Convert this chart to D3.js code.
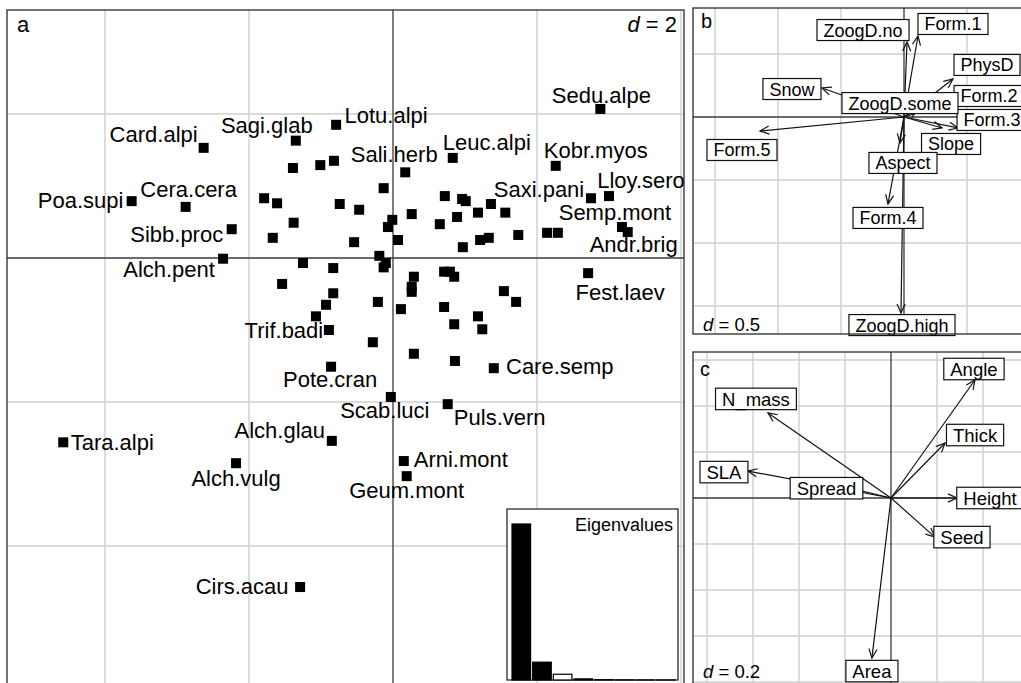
<!DOCTYPE html>
<html>
<head>
<meta charset="utf-8">
<script src="https://cdn.jsdelivr.net/npm/d3@7"></script>
<style>
  body { margin: 0; background: #fff; }
  svg { display: block; font-family: "Liberation Sans", Arial, Helvetica, sans-serif; }
</style>
</head>
<body>
<svg id="fig" width="1021" height="683"></svg>
<script>
// ---- Species scores on the first two RLQ axes (panel a) ----
const speciesNames = ["Sedu.alpe","Card.alpi","Sagi.glab","Lotu.alpi","Leuc.alpi","Sali.herb","Kobr.myos",
  "Saxi.pani","Lloy.sero","Semp.mont","Andr.brig","Poa.supi","Cera.cera","Sibb.proc","Alch.pent",
  "Fest.laev","Trif.badi","Pote.cran","Care.semp","Scab.luci","Puls.vern","Alch.glau","Tara.alpi",
  "Arni.mont","Geum.mont","Alch.vulg","Cirs.acau"];
const speciesX = [2.88,-2.63,-1.35,-0.79,0.83,0.17,2.26,2.75,3.00,3.18,3.26,-3.63,-2.88,-2.24,-2.36,
  2.71,-0.89,-0.86,1.40,-0.03,0.76,-0.85,-4.58,0.15,0.19,-2.18,-1.29];
const speciesY = [2.07,1.53,1.63,1.85,1.39,1.19,1.28,0.83,0.86,0.43,0.36,0.79,0.71,0.40,-0.01,
  -0.21,-1.00,-1.51,-1.53,-1.93,-2.03,-2.54,-2.56,-2.82,-3.03,-2.85,-4.57];
// remaining species, drawn without names
const otherX = [-1.39,-1.01,-0.82,-0.13,-1.79,-1.61,-0.74,-0.47,-1.38,-0.01,-0.07,0.26,0.65,-1.67,-0.54,
  0.07,0.72,0.96,1.01,1.36,1.18,1.56,0.89,2.14,2.29,1.74,1.33,1.21,0.97,-0.19,-0.10,-0.13,-1.25,-0.83,
  -1.54,-0.83,-0.93,-1.07,-0.21,0.29,0.26,0.26,0.11,0.71,0.79,0.85,0.71,0.85,1.54,1.71,1.18,1.24,
  -0.28,0.29,0.86];
const otherY = [1.25,1.29,1.35,0.97,0.83,0.76,0.75,0.67,0.49,0.53,0.43,0.61,0.47,0.28,0.22,
  0.25,0.86,0.82,0.79,0.75,0.63,0.63,0.57,0.35,0.35,0.32,0.28,0.25,0.15,0.03,-0.07,-0.13,-0.07,-0.14,
  -0.36,-0.49,-0.65,-0.81,-0.61,-0.26,-0.40,-0.47,-0.71,-0.19,-0.19,-0.26,-0.68,-0.92,-0.46,-0.61,-0.81,-0.99,
  -1.17,-1.33,-1.43];

// ---- Eigenvalues (inset bar chart) ----
const eigenvalues = [2.71, 0.31, 0.10, 0.02, 0.006, 0.003, 0.001, 0.0005];

// ---- Environmental variables (panel b) ----
const envNames = ["ZoogD.no","Form.1","PhysD","Snow","Form.2","Form.3","ZoogD.some","Form.5","Slope","Aspect","Form.4","ZoogD.high"];
const envX = [0.024, 0.111, 0.389, -0.651, 0.429, 0.429, 0.111, -1.143, 0.302, -0.032, -0.127, -0.024];
const envY = [0.595, 0.643, 0.302, 0.230, 0.135, -0.087, 0.063, -0.111, -0.087, -0.206, -0.690, -1.556];

// ---- Species traits (panel c) ----
const traitNames = ["Angle","N_mass","Thick","SLA","Spread","Height","Seed","Area"];
const traitX = [0.365, -0.535, 0.235, -0.622, -0.250, 0.287, 0.191, -0.083];
const traitY = [0.513, 0.370, 0.239, 0.117, 0.060, 0.000, -0.170, -0.696];

// ---- Label placement (pixel nudges of label centre / baseline from the mark) ----
const speciesLabelNudge = {
  "Sedu.alpe":[1,-6],"Card.alpi":[-50,-6],"Sagi.glab":[-29,-8],"Lotu.alpi":[50,-2],"Leuc.alpi":[34,-8],
  "Sali.herb":[-11,-10],"Kobr.myos":[40,-8],"Saxi.pani":[-52,-1],"Lloy.sero":[32,-8],"Semp.mont":[-7,-7],
  "Andr.brig":[6,20],"Poa.supi":[-51,7],"Cera.cera":[3,-10],"Sibb.proc":[-55,13],"Alch.pent":[-54,18],
  "Fest.laev":[32,27],"Trif.badi":[-45,8],"Pote.cran":[-1,20],"Care.semp":[66,6],"Scab.luci":[-6,21],
  "Puls.vern":[52,21],"Alch.glau":[-52,-3],"Tara.alpi":[49,8],"Arni.mont":[57,6],"Geum.mont":[0,22],
  "Alch.vulg":[0,23],"Cirs.acau":[-58,7]
};
const envLabelNudge = {
  "ZoogD.no":[-44,-12],"Form.1":[35,-12],"PhysD":[34,-14],"Snow":[-30,1],"Form.2":[31,-4],"Form.3":[34,-8],
  "ZoogD.some":[-18,-6],"Form.5":[-18,19],"Slope":[9,16],"Aspect":[3,20],"Form.4":[0,14],"ZoogD.high":[1,12]
};
const traitLabelNudge = {
  "Angle":[-1,-11],"N_mass":[-12,-14],"Thick":[30,-8],"SLA":[-24,1],"Spread":[-7,4],
  "Height":[33,0],"Seed":[27,0],"Area":[0,13]
};

const svg = d3.select("#fig");
svg.append("rect").attr("width", 1021).attr("height", 683).attr("fill", "#fff");

const GRID = "#cfcfcf", AXIS = "#3a3a3a", FRAME = "#2a2a2a";

// Builds a square-unit panel: frame, grid every `step`, axes through the origin.
function makePanel(id, box, origin, k, step) {
  const x = d3.scaleLinear()
    .domain([(box.x0 - origin[0]) / k, (box.x1 - origin[0]) / k]).range([box.x0, box.x1]);
  const y = d3.scaleLinear()
    .domain([(origin[1] - box.y1) / k, (origin[1] - box.y0) / k]).range([box.y1, box.y0]);
  svg.append("clipPath").attr("id", id).append("rect")
    .attr("x", box.x0).attr("y", box.y0).attr("width", box.x1 - box.x0).attr("height", box.y1 - box.y0);
  const g = svg.append("g");
  const inner = g.append("g").attr("clip-path", `url(#${id})`);
  const ticks = dom => d3.range(Math.ceil(dom[0] / step - 1e-9), Math.floor(dom[1] / step + 1e-9) + 1)
    .map(i => +(i * step).toFixed(6)).filter(v => v !== 0);
  inner.selectAll(".gx").data(ticks(x.domain())).join("line")
    .attr("x1", d => x(d)).attr("x2", d => x(d)).attr("y1", box.y0).attr("y2", box.y1)
    .attr("stroke", GRID).attr("stroke-width", 1.4);
  inner.selectAll(".gy").data(ticks(y.domain())).join("line")
    .attr("y1", d => y(d)).attr("y2", d => y(d)).attr("x1", box.x0).attr("x2", box.x1)
    .attr("stroke", GRID).attr("stroke-width", 1.4);
  inner.append("line").attr("x1", x(0)).attr("x2", x(0)).attr("y1", box.y0).attr("y2", box.y1)
    .attr("stroke", AXIS).attr("stroke-width", 1.3);
  inner.append("line").attr("y1", y(0)).attr("y2", y(0)).attr("x1", box.x0).attr("x2", box.x1)
    .attr("stroke", AXIS).attr("stroke-width", 1.3);
  return { x, y, g, inner, box };
}

function drawFrame(p) {
  const b = p.box;
  p.g.append("rect").attr("x", b.x0).attr("y", b.y0).attr("width", b.x1 - b.x0).attr("height", b.y1 - b.y0)
    .attr("fill", "none").attr("stroke", FRAME).attr("stroke-width", 1.3);
}

// ---------------- Panel a: species ----------------
const pa = makePanel("clipA", { x0: 7, x1: 684, y0: 10, y1: 700 }, [393, 258], 72, 2);
const sq = 10;
const otherPts = otherX.map((v, i) => [v, otherY[i]]);
pa.inner.selectAll(".sp0").data(otherPts).join("rect")
  .attr("x", d => pa.x(d[0]) - sq / 2).attr("y", d => pa.y(d[1]) - sq / 2)
  .attr("width", sq).attr("height", sq).attr("fill", "#000");
const spPts = speciesNames.map((n, i) => ({ n, x: speciesX[i], y: speciesY[i] }));
pa.inner.selectAll(".sp1").data(spPts).join("rect")
  .attr("x", d => pa.x(d.x) - sq / 2).attr("y", d => pa.y(d.y) - sq / 2)
  .attr("width", sq).attr("height", sq).attr("fill", "#000");
pa.g.selectAll(".spl").data(spPts).join("text")
  .attr("x", d => pa.x(d.x) + speciesLabelNudge[d.n][0])
  .attr("y", d => pa.y(d.y) + speciesLabelNudge[d.n][1])
  .attr("text-anchor", "middle").attr("font-size", 22).attr("fill", "#000")
  .text(d => d.n);

pa.g.append("text").attr("x", 17).attr("y", 32).attr("font-size", 22).text("a");
const da = pa.g.append("text").attr("x", 677).attr("y", 32).attr("font-size", 22).attr("text-anchor", "end");
da.append("tspan").attr("font-style", "italic").text("d");
da.append("tspan").text(" = 2");

// Eigenvalue inset
const inset = { x0: 507, x1: 678, y0: 509, y1: 680 };
pa.g.append("rect").attr("x", inset.x0).attr("y", inset.y0)
  .attr("width", inset.x1 - inset.x0).attr("height", inset.y1 - inset.y0)
  .attr("fill", "#fff").attr("stroke", FRAME).attr("stroke-width", 1.3);
const ex = d3.scaleBand().domain(d3.range(eigenvalues.length))
  .range([inset.x0 + 5, inset.x0 + 5 + 20.4 * eigenvalues.length]).paddingInner(0.1).paddingOuter(0);
const ey = d3.scaleLinear().domain([0, d3.max(eigenvalues)]).range([inset.y1, inset.y0 + 15]);
pa.g.selectAll(".eig").data(eigenvalues).join("rect")
  .attr("x", (d, i) => ex(i)).attr("width", ex.bandwidth())
  .attr("y", d => ey(d)).attr("height", d => inset.y1 - ey(d))
  .attr("fill", (d, i) => i < 2 ? "#000" : "#fff")
  .attr("stroke", "#000").attr("stroke-width", 1.2);
pa.g.append("text").attr("x", inset.x1 - 5).attr("y", inset.y0 + 22).attr("text-anchor", "end")
  .attr("font-size", 18).text("Eigenvalues");
drawFrame(pa);

// ---------------- arrows + boxed labels ----------------
function arrows(p, names, xs, ys, nudge, fontSize) {
  const data = names.map((n, i) => ({ n, x: xs[i], y: ys[i] }));
  const ox = p.x(0), oy = p.y(0);
  const ag = p.inner.append("g").attr("stroke", "#111").attr("stroke-width", 1.2).attr("fill", "none");
  data.forEach(d => {
    const tx = p.x(d.x), ty = p.y(d.y);
    ag.append("line").attr("x1", ox).attr("y1", oy).attr("x2", tx).attr("y2", ty);
    const th = Math.atan2(ty - oy, tx - ox), L = 10, phi = 0.42;
    const h = [th + phi, th - phi].map(a => [tx - L * Math.cos(a), ty - L * Math.sin(a)]);
    ag.append("path").attr("d", `M${h[0][0]},${h[0][1]}L${tx},${ty}L${h[1][0]},${h[1][1]}`);
  });
  const lg = p.g.append("g");
  data.forEach(d => {
    const cx = p.x(d.x) + nudge[d.n][0], cy = p.y(d.y) + nudge[d.n][1];
    const grp = lg.append("g");
    const r = grp.append("rect");
    const t = grp.append("text").attr("x", cx).attr("y", cy + fontSize * 0.36)
      .attr("text-anchor", "middle").attr("font-size", fontSize).text(d.n);
    const w = t.node().getComputedTextLength();
    const bw = w + 13, bh = fontSize + 3;
    r.attr("x", cx - bw / 2).attr("y", cy - bh / 2).attr("width", bw).attr("height", bh)
      .attr("fill", "#fff").attr("stroke", "#111").attr("stroke-width", 1.2);
  });
}

// ---------------- Panel b: environment ----------------
const pb = makePanel("clipB", { x0: 693, x1: 1040, y0: 8, y1: 334 }, [904, 117], 126, 0.5);
arrows(pb, envNames, envX, envY, envLabelNudge, 18);
pb.g.append("text").attr("x", 701).attr("y", 28).attr("font-size", 20).text("b");
const db = pb.g.append("text").attr("x", 703).attr("y", 331).attr("font-size", 18.5);
db.append("tspan").attr("font-style", "italic").text("d");
db.append("tspan").text(" = 0.5");
drawFrame(pb);

// ---------------- Panel c: traits ----------------
const pc = makePanel("clipC", { x0: 693, x1: 1040, y0: 352, y1: 700 }, [891, 498], 230, 0.2);
arrows(pc, traitNames, traitX, traitY, traitLabelNudge, 18.5);
pc.g.append("text").attr("x", 700).attr("y", 376).attr("font-size", 20).text("c");
const dc = pc.g.append("text").attr("x", 703).attr("y", 678).attr("font-size", 18.5);
dc.append("tspan").attr("font-style", "italic").text("d");
dc.append("tspan").text(" = 0.2");
drawFrame(pc);
</script>
</body>
</html>
